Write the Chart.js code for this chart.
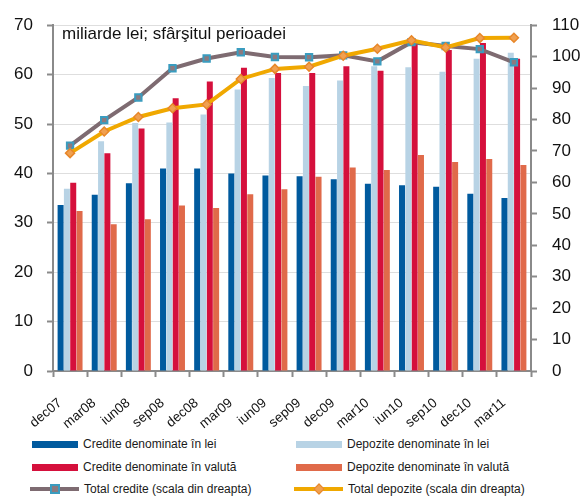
<!DOCTYPE html>
<html>
<head>
<meta charset="utf-8">
<script src="https://cdn.jsdelivr.net/npm/chart.js@4"></script>
<style>
  body { margin: 0; background: #fff; font-family: "Liberation Sans", Arial, sans-serif; }
  #wrap { position: relative; width: 585px; height: 496px; }
  #box { position: absolute; left: 0; top: 0; width: 585px; height: 430px; }
  .leg { position: absolute; height: 20px; display: flex; align-items: center; font-size: 12px; color: #1a1a1a; white-space: nowrap; }
  .mk { position: relative; display: inline-block; margin-right: 5px; }
</style>
</head>
<body>
<div id="wrap">
  <div id="box"><canvas id="chart"></canvas></div>
  <div id="legend"></div>
</div>
<script>
const labels = ['dec07', 'mar08', 'iun08', 'sep08', 'dec08', 'mar09', 'iun09',
                'sep09', 'dec09', 'mar10', 'iun10', 'sep10', 'dec10', 'mar11'];

// miliarde lei, scala din stanga
const crediteLei     = [33.6, 35.7, 38.0, 41.0, 41.0, 40.0, 39.6, 39.4, 38.8, 37.9, 37.6, 37.3, 35.9, 35.0];
const depoziteLei    = [36.9, 46.5, 50.2, 50.3, 51.9, 57.0, 59.3, 57.7, 58.8, 61.7, 61.5, 60.6, 63.2, 64.4];
const crediteValuta  = [38.1, 44.1, 49.1, 55.2, 58.6, 61.4, 60.3, 60.3, 61.7, 60.8, 66.7, 65.0, 66.4, 63.2];
const depoziteValuta = [32.4, 29.7, 30.7, 33.5, 33.0, 35.8, 36.8, 39.3, 41.2, 40.7, 43.7, 42.3, 42.9, 41.7];

// scala din dreapta
const totalCredite  = [71.7, 79.8, 87.0, 96.3, 99.4, 101.4, 99.9, 99.8, 100.4, 98.5, 104.6, 103.4, 102.4, 98.2];
const totalDepozite = [69.3, 76.2, 80.8, 83.6, 84.8, 92.9, 96.1, 96.8, 100.3, 102.5, 105.2, 102.9, 105.9, 106.0];

const seriesNames = [
  'Credite denominate în lei', 'Depozite denominate în lei',
  'Credite denominate în valută', 'Depozite denominate în valută',
  'Total credite (scala din dreapta)', 'Total depozite (scala din dreapta)'
];
const unitNote = 'miliarde lei; sfârşitul perioadei';

const FONT = '"Liberation Sans", Arial, sans-serif';
const axisGray = '#8a8a8a';

const cBlue = '#005a9e', cLight = '#b8d3e5', cRed = '#d5103c', cOrange = '#e06a4a';
const cGray = '#7e6b71', cTeal = '#3a9cbf', cYellow = '#f0a800', cDiamond = '#e8872a';

const notePlugin = {
  id: 'note',
  afterDatasetsDraw(chart) {
    const ctx = chart.ctx;
    ctx.save();
    ctx.font = '17px ' + FONT;
    ctx.fillStyle = '#111';
    ctx.textBaseline = 'alphabetic';
    ctx.fillText(unitNote, chart.chartArea.left + 9, chart.chartArea.top + 13.5);
    ctx.restore();
  }
};

function barSet(label, data, color) {
  return { type: 'bar', label, data, backgroundColor: color, borderWidth: 0,
           yAxisID: 'y', order: 3, barPercentage: 0.95, categoryPercentage: 0.74 };
}

const datasets = [
  barSet(seriesNames[0], crediteLei, cBlue),
  barSet(seriesNames[1], depoziteLei, cLight),
  barSet(seriesNames[2], crediteValuta, cRed),
  barSet(seriesNames[3], depoziteValuta, cOrange),
  {
    type: 'line', label: seriesNames[4], data: totalCredite, yAxisID: 'y1', order: 2,
    borderColor: cGray, borderWidth: 4, tension: 0,
    pointStyle: 'rect', pointRadius: 4.5, pointBorderWidth: 2,
    pointBorderColor: cTeal, pointBackgroundColor: '#8b7a80'
  },
  {
    type: 'line', label: seriesNames[5], data: totalDepozite, yAxisID: 'y1', order: 1,
    borderColor: cYellow, borderWidth: 4, tension: 0,
    pointStyle: 'rectRot', pointRadius: 4.5, pointBorderWidth: 1.5,
    pointBorderColor: cDiamond, pointBackgroundColor: '#f0a050'
  }
];

new Chart(document.getElementById('chart'), {
  type: 'bar',
  data: { labels, datasets },
  plugins: [notePlugin],
  options: {
    responsive: true,
    maintainAspectRatio: false,
    animation: false,
    events: [],
    layout: { padding: { top: 20, left: 0, right: 0, bottom: 0 } },
    plugins: { legend: { display: false }, tooltip: { enabled: false } },
    scales: {
      x: {
        grid: { drawOnChartArea: false, tickLength: 6, tickColor: axisGray, tickWidth: 2, offset: true },
        border: { color: axisGray, width: 2 },
        ticks: { color: '#111', font: { family: FONT, size: 13.5 }, minRotation: 40, maxRotation: 40,
                 labelOffset: -10, padding: 18 },
        afterFit(s) { s.height = 59; }
      },
      y: {
        position: 'left', min: 0, max: 70,
        grid: { color: '#dedede', lineWidth: 1, tickLength: 6, tickColor: axisGray, tickWidth: 2 },
        border: { color: axisGray, width: 2 },
        ticks: { stepSize: 10, color: '#111', font: { family: FONT, size: 17 }, padding: 14 },
        afterFit(s) { s.width = 53; }
      },
      y1: {
        position: 'right', min: 0, max: 110,
        grid: { drawOnChartArea: false, tickLength: 6, tickColor: axisGray, tickWidth: 2 },
        border: { color: axisGray, width: 2 },
        ticks: { stepSize: 10, color: '#111', font: { family: FONT, size: 17 }, padding: 15 },
        afterFit(s) { s.width = 54; }
      }
    }
  }
});

// legenda in doua coloane
const legend = document.getElementById('legend');
const colX = [30, 294];
const rowY = [434, 457, 479];
datasets.forEach((ds, i) => {
  const item = document.createElement('div');
  item.className = 'leg';
  item.style.left = colX[i % 2] + 'px';
  item.style.top = rowY[Math.floor(i / 2)] + 'px';
  const mk = document.createElement('span');
  mk.className = 'mk';
  if (ds.type === 'bar') {
    mk.style.cssText += 'width:46px;height:7px;margin-left:2px;background:' + ds.backgroundColor;
  } else {
    mk.style.cssText += 'width:49px;height:4px;background:' + ds.borderColor;
    const p = document.createElement('span');
    if (ds.pointStyle === 'rect') {
      p.style.cssText = 'position:absolute;left:20px;top:-3px;width:6px;height:6px;border:2px solid ' +
        ds.pointBorderColor + ';background:' + ds.pointBackgroundColor;
    } else {
      p.style.cssText = 'position:absolute;left:21px;top:-2px;width:6px;height:6px;transform:rotate(45deg);border:1px solid ' +
        ds.pointBorderColor + ';background:' + ds.pointBackgroundColor;
    }
    mk.appendChild(p);
  }
  item.appendChild(mk);
  const t = document.createElement('span');
  t.textContent = ds.label;
  item.appendChild(t);
  legend.appendChild(item);
});
</script>
</body>
</html>
